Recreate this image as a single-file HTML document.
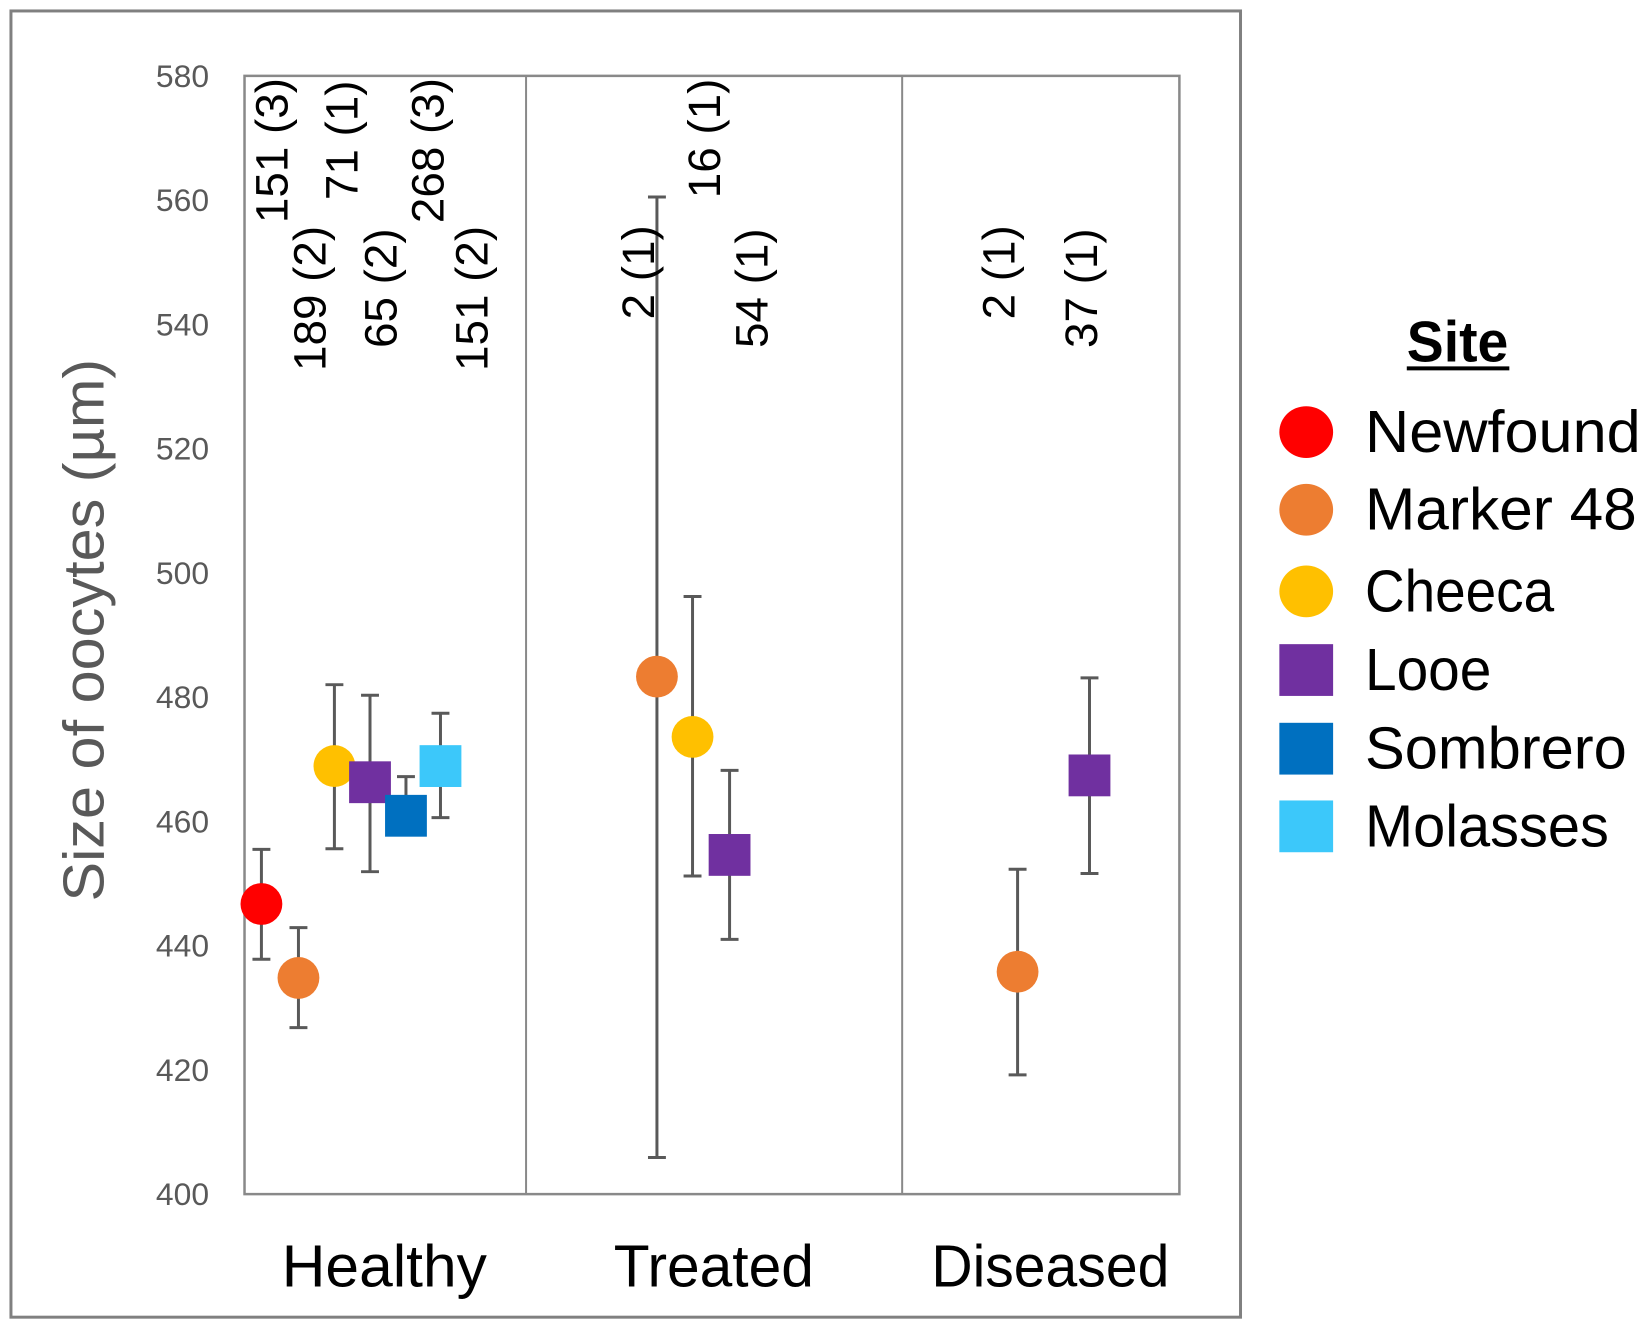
<!DOCTYPE html>
<html><head><meta charset="utf-8"><style>html,body{margin:0;padding:0;background:#fff}svg{display:block}</style></head>
<body>
<svg id="chart" width="1652" height="1332" viewBox="0 0 1652 1332" xmlns="http://www.w3.org/2000/svg" font-family="'Liberation Sans', sans-serif">
<g transform="scale(0.9956)">
<rect x="11" y="11" width="1235" height="1312" fill="#fff" stroke="#808080" stroke-width="3"/>
<g id="plot"></g>
<g id="legend" transform="translate(5,0)"></g>
</g>
</svg>
<script>
const NS='http://www.w3.org/2000/svg';
const yTicks=[400,420,440,460,480,500,520,540,560,580];
const categories=['Healthy','Treated','Diseased'];
const categoryCenters=[386,717,1055];
const dividers=[7.83,18.29];
const sites=['Newfound','Marker 48','Cheeca','Looe','Sombrero','Molasses'];
const siteColors=['#ff0000','#ed7d31','#ffc000','#7030a0','#0070c0','#3cc8fa'];
const siteShapes=['circle','circle','circle','square','square','square'];
const pointSite=[0,1,2,3,4,5,1,2,3,1,3];
const pointX=[0.47,1.5,2.5,3.49,4.49,5.45,11.47,12.46,13.49,21.5,23.5];
const pointMean=[446.7,434.8,468.9,466.3,460.9,468.9,483.3,473.6,454.6,435.8,467.4];
const pointHigh=[455.5,442.9,482,480.3,467.2,477.4,560.5,496.2,468.2,452.3,483.1];
const pointLow=[437.8,426.8,455.6,451.9,458.3,460.6,405.9,451.2,441,419.2,451.6];
const labelText=['151 (3)','189 (2)','71 (1)','65 (2)','268 (3)','151 (2)','2 (1)','16 (1)','54 (1)','2 (1)','37 (1)'];
const labelX=[0.73,1.78,2.67,3.75,5.07,6.29,10.92,12.75,14.08,20.95,23.24];
const labelY=[556.3,532.5,560,536.2,556.3,532.5,540.8,560.3,536.2,540.8,536.2];

const L=245.6,R=1184.6,T=76.2,B=1199.4;
const xs=v=>L+(v/26)*(R-L);
const ys=v=>B-(v-400)/180*(B-T);
const plot=document.getElementById('plot');
function mk(tag,attrs,parent,text){const e=document.createElementNS(NS,tag);for(const k in attrs)e.setAttribute(k,attrs[k]);if(text!==undefined)e.textContent=text;(parent||plot).appendChild(e);return e;}

let el=mk('rect',{x:L,y:T,width:R-L,height:B-T,fill:'none',stroke:'#898989','stroke-width':2.5});


dividers.forEach(d=>{const e=mk('line',{x1:xs(d),x2:xs(d),y1:T,y2:B,stroke:'#898989','stroke-width':2});

});
yTicks.forEach(t=>{const e=mk('text',{x:210,y:ys(t)+11,'text-anchor':'end','font-size':32,fill:'#595959'},plot,String(t));

});
el=mk('text',{x:0,y:0,transform:'translate(104,633) rotate(-90)','text-anchor':'middle','font-size':58,fill:'#595959',textLength:545,lengthAdjust:'spacingAndGlyphs'},plot,'Size of oocytes (µm)');


const catW=[206,201,239];
categories.forEach((c,i)=>{const e=mk('text',{x:categoryCenters[i],y:1292,'text-anchor':'middle','font-size':60,fill:'#000',textLength:catW[i],lengthAdjust:'spacingAndGlyphs'},plot,c);

});

pointX.forEach((px,i)=>{
  const cx=xs(px),s=pointSite[i];
  const g=mk('g',{});
  
  
  const yh=ys(pointHigh[i]),yl=ys(pointLow[i]);
  mk('line',{x1:cx,x2:cx,y1:yh,y2:yl,stroke:'#595959','stroke-width':3},g);
  mk('line',{x1:cx-9,x2:cx+9,y1:yh,y2:yh,stroke:'#595959','stroke-width':3},g);
  mk('line',{x1:cx-9,x2:cx+9,y1:yl,y2:yl,stroke:'#595959','stroke-width':3},g);
  const cy=ys(pointMean[i]);
  if(siteShapes[s]==='circle')mk('circle',{cx:cx,cy:cy,r:21,fill:siteColors[s]},g);
  else mk('rect',{x:cx-21,y:cy-21,width:42,height:42,fill:siteColors[s]},g);
});
labelText.forEach((t,i)=>{const x=xs(labelX[i])+17,y=ys(labelY[i]);
const e=mk('text',{x:0,y:0,transform:`translate(${x},${y}) rotate(-90)`,'font-size':46,fill:'#000'},plot,t);

});

const lg=document.getElementById('legend');
el=mk('text',{x:1459,y:363,'text-anchor':'middle','font-size':58,'font-weight':'bold',fill:'#000',textLength:102,lengthAdjust:'spacingAndGlyphs'},lg,'Site');


mk('rect',{x:1408,y:368,width:103,height:4,fill:'#000'},lg);
const legY=[434,512,594,673,752,830];
const legW=[277,273,190,127,263,245];
sites.forEach((s,i)=>{const g=mk('g',{},lg);


const cy=legY[i];
if(siteShapes[i]==='circle')mk('ellipse',{cx:1307,cy:cy,rx:27,ry:26,fill:siteColors[i]},g);
else mk('rect',{x:1280,y:cy-26,width:54,height:52,fill:siteColors[i]},g);
mk('text',{x:1366,y:cy+20,'font-size':60,fill:'#000',textLength:legW[i],lengthAdjust:'spacingAndGlyphs'},g,s);});
</script>
</body></html>
